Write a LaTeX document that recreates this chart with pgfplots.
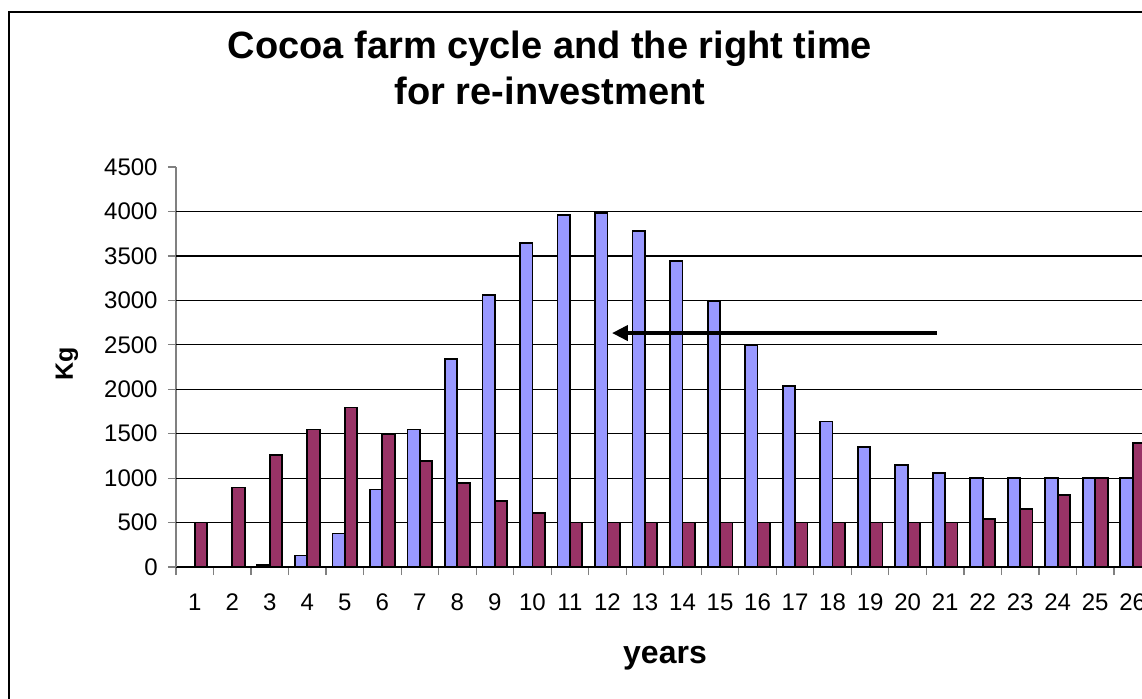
\documentclass[border=0pt]{standalone}
\usepackage{fontspec}
\setmainfont{Liberation Sans}
\usepackage{pgfplots}
\pgfplotsset{compat=1.18}
\usetikzlibrary{arrows.meta}

\definecolor{barblue}{RGB}{153,153,255}
\definecolor{barplum}{RGB}{153,51,102}

\begin{document}
\begin{tikzpicture}
% outer chart frame (cropped on the right and bottom)
\draw[line width=0.8pt] (4.5pt,-360pt) -- (4.5pt,-6pt) -- (580pt,-6pt);

\begin{axis}[
    at={(88pt,-283.5pt)}, anchor=south west,
    scale only axis, width=487.75pt, height=200pt,
    xmin=0.5, xmax=26.5, ymin=0, ymax=4500,
    axis x line*=bottom, axis y line*=left,
    x axis line style={black, line width=0.8pt},
    y axis line style={gray, line width=0.8pt},
    ybar=0pt, bar width=6.2pt,
    xtick={0.5,1.5,...,26.5},
    x tick label as interval,
    xticklabels={1,2,3,4,5,6,7,8,9,10,11,12,13,14,15,16,17,18,19,20,21,22,23,24,25,26},
    ytick={0,500,...,4500},
    tick align=outside, major tick length=4pt,
    tick style={gray, line width=0.6pt},
    extra y ticks={500,1000,...,4000},
    extra y tick labels={},
    extra y tick style={grid=major, major tick length=0pt,
        grid style={black, line width=0.6pt}},
    /pgf/number format/assume math mode=true,
    /pgf/number format/1000 sep={},
    ticklabel style={font=\fontsize{12}{14}\selectfont},
    yticklabel style={inner sep=0pt, xshift=-5pt},
    xticklabel style={inner sep=0pt, anchor=base, yshift=-17.5pt},
    title={Cocoa farm cycle and the right time\\for re-investment},
    title style={at={(rel axis cs:0.3834,1)}, anchor=base, align=center,
        yshift=25.5pt, font=\fontsize{19}{23}\selectfont\bfseries},
    xlabel={years},
    xlabel style={at={(rel axis cs:0.5013,-0.2275)}, anchor=center,
        font=\fontsize{16}{18}\selectfont\bfseries},
    ylabel={Kg},
    ylabel style={at={(rel axis cs:-0.1117,0.5075)}, anchor=center,
        font=\fontsize{12.5}{14}\selectfont\bfseries},
]
\addplot[draw=black, line width=0.9pt, fill=barblue] coordinates {
    (3,20) (4,130) (5,378) (6,871) (7,1548) (8,2340) (9,3060) (10,3642)
    (11,3960) (12,3982) (13,3780) (14,3445) (15,2990) (16,2494) (17,2040)
    (18,1638) (19,1348) (20,1148) (21,1058) (22,1000) (23,1000) (24,1000)
    (25,1000) (26,1000)
};
\addplot[draw=black, line width=0.9pt, fill=barplum] coordinates {
    (1,500) (2,895) (3,1258) (4,1547) (5,1795) (6,1500) (7,1190) (8,942)
    (9,742) (10,607) (11,500) (12,500) (13,500) (14,500) (15,500) (16,500)
    (17,500) (18,500) (19,500) (20,500) (21,500) (22,540) (23,652)
    (24,810) (25,1000) (26,1395)
};
\draw[line width=2.2pt, -{Triangle[length=8pt,width=7.5pt]}]
    (axis cs:20.78,2632) -- (axis cs:12.12,2632);
\end{axis}

\pgfresetboundingbox
\path[use as bounding box] (0pt,0pt) rectangle (571pt,-349pt);
\end{tikzpicture}
\end{document}
